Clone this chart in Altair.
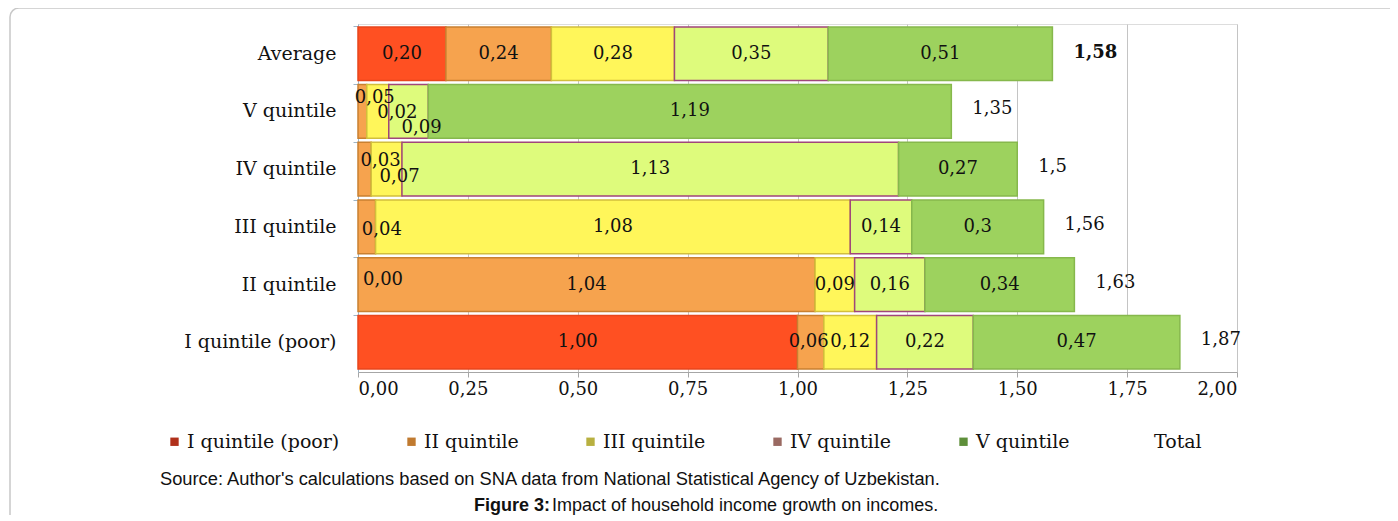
import altair as alt
import pandas as pd

categories = ["Average", "V quintile", "IV quintile", "III quintile", "II quintile", "I quintile (poor)"]
series_names = ["I quintile (poor)", "II quintile", "III quintile", "IV quintile", "V quintile"]

# segment values as printed on the bars, in the order of `categories` (None = no segment)
q1_values = ["0,20", None, None, None, "0,00", "1,00"]
q2_values = ["0,24", "0,02", "0,03", "0,04", "1,04", "0,06"]
q3_values = ["0,28", "0,05", "0,07", "1,08", "0,09", "0,12"]
q4_values = ["0,35", "0,09", "1,13", "0,14", "0,16", "0,22"]
q5_values = ["0,51", "1,19", "0,27", "0,3", "0,34", "0,47"]
total_values = ["1,58", "1,35", "1,5", "1,56", "1,63", "1,87"]

# pixel nudges of crowded labels (dx, dy), keyed by (category, series)
label_nudge = {
    ("V quintile", "II quintile"): (35, 2),
    ("V quintile", "III quintile"): (-3, -13),
    ("V quintile", "IV quintile"): (13, 17),
    ("IV quintile", "II quintile"): (16, -8),
    ("IV quintile", "III quintile"): (13, 8),
    ("III quintile", "II quintile"): (15, 3),
    ("II quintile", "I quintile (poor)"): (25, -5),
    ("I quintile (poor)", "II quintile"): (-2, 0),
}

fill_colors = ["#FF5022", "#F6A34E", "#FFF65A", "#DEFB7C", "#9DD25E"]
stroke_colors = ["#E8461C", "#C98030", "#D2BF3C", "#A0467A", "#86B84C"]
legend_names = series_names + ["Total"]
legend_colors = ["#B0301A", "#C07A30", "#B8B040", "#9A6A62", "#5E8F3A", "rgba(0,0,0,0)"]

source_text = "Source: Author's calculations based on SNA data from National Statistical Agency of Uzbekistan."
fig_bold = "Figure 3:"
fig_rest = " Impact of household income growth on incomes."

def num(s):
    return float(s.replace(",", "."))

rows = []
all_series = [q1_values, q2_values, q3_values, q4_values, q5_values]
for i, cat in enumerate(categories):
    start = 0.0
    for j, ser in enumerate(series_names):
        s = all_series[j][i]
        if s is None:
            continue
        v = num(s)
        dx, dy = label_nudge.get((cat, ser), (0, 0))
        rows.append({"category": cat, "series": ser, "value": v, "start": start,
                     "end": start + v, "mid": start + v / 2, "label": s, "dx": dx, "dy": dy})
        start += v
df = pd.DataFrame(rows)

tot = pd.DataFrame({"category": categories, "total": [num(s) for s in total_values],
                    "label": total_values})

SERIF = "DejaVu Serif"

y_enc = alt.Y("category:N", sort=categories, title=None,
              scale=alt.Scale(paddingInner=0.07, paddingOuter=0.05),
              axis=alt.Axis(labelFont=SERIF, labelFontSize=19, labelColor="#111111",
                            domainColor="#9DB5C8", tickColor="#9DB5C8", tickSize=5,
                            bandPosition=0, labelPadding=17))
x_scale = alt.Scale(domain=[0, 2], nice=False)
x_axis = alt.Axis(values=[0, 0.25, 0.5, 0.75, 1, 1.25, 1.5, 1.75, 2], title=None,
                  labelExpr="replace(format(datum.value, '.2f'), '.', ',')",
                  labelFont=SERIF, labelFontSize=18, labelColor="#111111",
                  domainColor="#A6A6A6", tickColor="#A6A6A6", tickSize=5, labelPadding=3,
                  grid=True, gridColor="#C4C4C4", gridWidth=1)

bars = alt.Chart(df).transform_filter("datum.value > 0").mark_bar(strokeWidth=1.5).encode(
    y=y_enc,
    x=alt.X("start:Q", scale=x_scale, axis=x_axis),
    x2="end:Q",
    fill=alt.Fill("series:N", scale=alt.Scale(domain=series_names, range=fill_colors), legend=None),
    stroke=alt.Stroke("series:N", scale=alt.Scale(domain=series_names, range=stroke_colors), legend=None),
)

label_layers = []
for (dx, dy) in sorted(set(zip(df["dx"], df["dy"]))):
    label_layers.append(
        alt.Chart(df).transform_filter(f"datum.dx == {dx} && datum.dy == {dy}").mark_text(
            font=SERIF, fontSize=18, color="#111111", dx=int(dx), dy=int(dy)).encode(
            y=alt.Y("category:N", sort=categories),
            x=alt.X("mid:Q", scale=x_scale),
            text="label:N",
        )
    )

tot_bold = alt.Chart(tot).transform_filter("datum.category == 'Average'").mark_text(
    font=SERIF, fontSize=18, fontWeight="bold", color="#111111", align="left", dx=21, dy=-1).encode(
    y=alt.Y("category:N", sort=categories),
    x=alt.X("total:Q", scale=x_scale),
    text="label:N",
)
tot_norm = alt.Chart(tot).transform_filter("datum.category != 'Average'").mark_text(
    font=SERIF, fontSize=18, color="#111111", align="left", dx=21, dy=-2).encode(
    y=alt.Y("category:N", sort=categories),
    x=alt.X("total:Q", scale=x_scale),
    text="label:N",
)

legend_layer = alt.Chart(pd.DataFrame({"series": legend_names})).mark_square(opacity=0, size=1).encode(
    x=alt.value(0), y=alt.value(0),
    color=alt.Color("series:N", scale=alt.Scale(domain=legend_names, range=legend_colors),
                    legend=alt.Legend(title=None, orient="none", legendX=-193, legendY=408,
                                      direction="horizontal", columns=6, columnPadding=62,
                                      symbolType="square", symbolSize=70, symbolOpacity=1,
                                      symbolStrokeWidth=0, labelFont=SERIF, labelFontSize=19,
                                      labelColor="#111111", labelOffset=3, labelLimit=0)),
)

caption_df = pd.DataFrame({"src": [source_text], "fb": [fig_bold], "fr": [fig_rest]})
cap_src = alt.Chart(caption_df).mark_text(font="Liberation Sans", fontSize=18.3, align="left",
                                          baseline="middle", color="#111111").encode(
    x=alt.value(-198), y=alt.value(456), text="src:N")
cap_b = alt.Chart(caption_df).mark_text(font="Liberation Sans", fontSize=18, fontWeight="bold",
                                        align="right", baseline="middle", color="#111111").encode(
    x=alt.value(192), y=alt.value(482), text="fb:N")
cap_r = alt.Chart(caption_df).mark_text(font="Liberation Sans", fontSize=18, align="left",
                                        baseline="middle", color="#111111").encode(
    x=alt.value(194), y=alt.value(482), text="fr:N")

frame = alt.Chart(pd.DataFrame({"a": [0]})).mark_rect(
    fill="white", fillOpacity=0, stroke="#C8C8C8", strokeWidth=1.5, cornerRadius=9).encode(
    x=alt.value(-348), x2=alt.value(1120), y=alt.value(-16), y2=alt.value(560))

chart = alt.layer(frame, bars, *label_layers, tot_bold, tot_norm, legend_layer, cap_src, cap_b, cap_r).resolve_scale(
    color="independent"
).properties(
    width=879, height=348,
    autosize=alt.AutoSizeParams(type="none"),
    padding={"left": 350, "top": 16, "right": 153, "bottom": 143},
).configure_view(stroke=None).configure(background="white")

chart.save("out.html", embed_options={"renderer": "svg", "actions": False})
